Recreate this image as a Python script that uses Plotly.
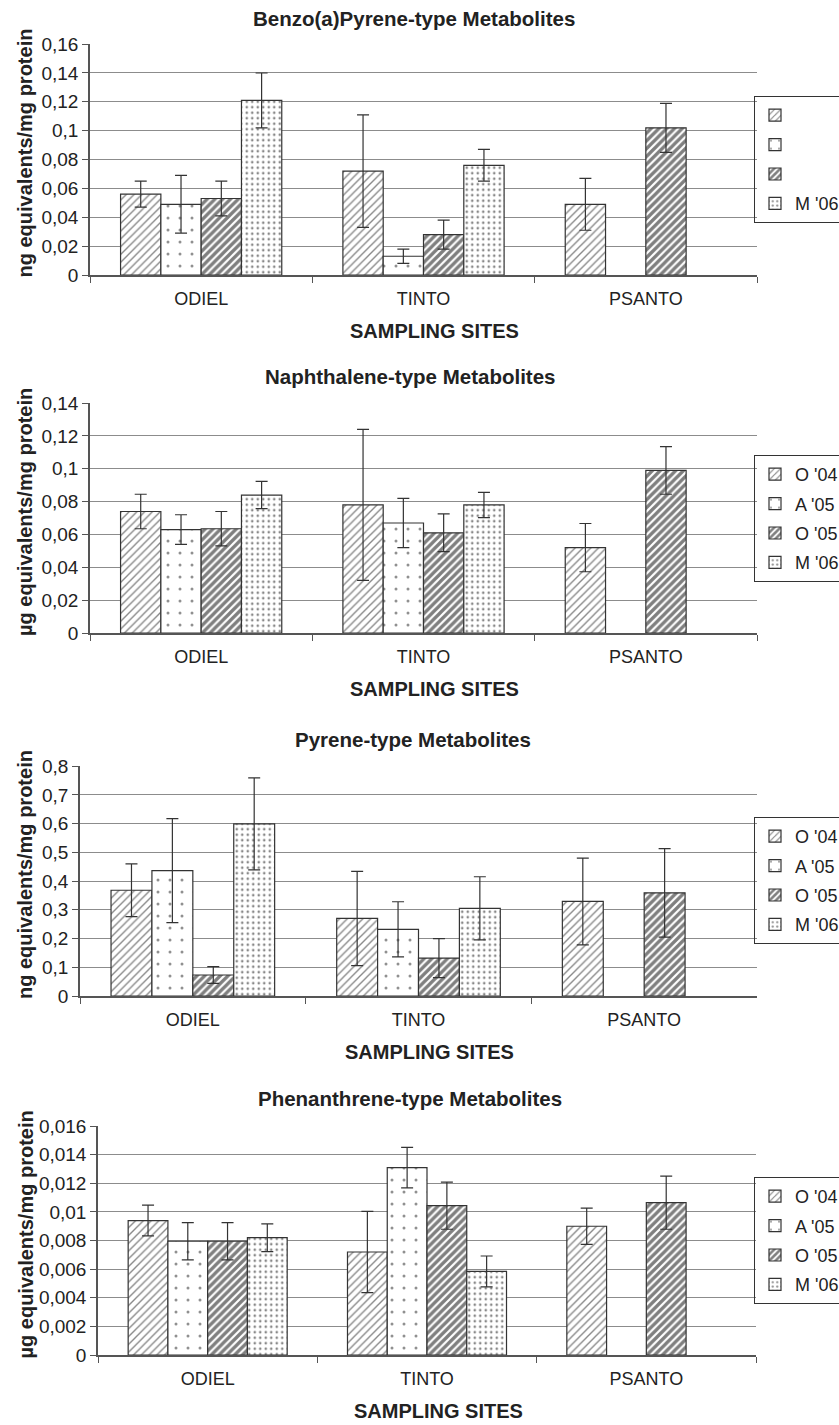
import plotly.graph_objects as go

sites = ["ODIEL", "TINTO", "PSANTO"]
series = ["O '04", "A '05", "O '05", "M '06"]

titles = ["Benzo(a)Pyrene-type Metabolites", "Naphthalene-type Metabolites",
          "Pyrene-type Metabolites", "Phenanthrene-type Metabolites"]
ytitles = ["ng equivalents/mg protein", "µg equivalents/mg protein",
           "ng equivalents/mg protein", "µg equivalents/mg protein"]
xtitle = "SAMPLING SITES"

# Benzo(a)Pyrene
bap_vals = [[0.056, 0.072, 0.049], [0.049, 0.013, None], [0.053, 0.028, 0.102], [0.121, 0.076, None]]
bap_err = [[0.009, 0.039, 0.018], [0.020, 0.005, None], [0.012, 0.010, 0.017], [0.019, 0.011, None]]
# Naphthalene
nap_vals = [[0.074, 0.078, 0.052], [0.063, 0.067, None], [0.0635, 0.061, 0.099], [0.084, 0.078, None]]
nap_err = [[0.0105, 0.046, 0.0147], [0.009, 0.015, None], [0.0105, 0.0115, 0.0145], [0.0083, 0.0077, None]]
# Pyrene
pyr_vals = [[0.368, 0.270, 0.329], [0.436, 0.232, None], [0.073, 0.132, 0.359], [0.599, 0.305, None]]
pyr_err = [[0.092, 0.164, 0.151], [0.181, 0.096, None], [0.029, 0.068, 0.154], [0.160, 0.110, None]]
# Phenanthrene
phe_vals = [[0.0094, 0.0072, 0.0090], [0.00795, 0.0131, None], [0.00795, 0.01044, 0.01065], [0.0082, 0.00584, None]]
phe_err = [[0.00107, 0.00284, 0.00127], [0.0013, 0.00142, None], [0.0013, 0.00165, 0.00186], [0.00097, 0.00108, None]]

yranges = [0.16, 0.14, 0.8, 0.016]
ydticks = [0.02, 0.02, 0.1, 0.002]

all_vals = [bap_vals, nap_vals, pyr_vals, phe_vals]
all_err = [bap_err, nap_err, pyr_err, phe_err]
# first panel legend shows only the last label
legend_names = [["", "", "", "M '06"], series, series, series]

W, H = 839, 1425
# pixel geometry of the panels (left, right, top, bottom)
panels = [(90, 757, 44, 275), (90, 757, 403, 633), (80, 757, 766, 996), (98, 756, 1126, 1355)]
legend_tops = [96, 455, 817, 1177]
legend_left = 754
title_pos = [(414, 18), (410, 376), (413, 739), (410, 1098)]

patterns = [
    dict(shape="/", size=5.5, solidity=0.25, fgcolor="#111", bgcolor="white"),
    dict(shape=".", size=12, solidity=0.05, fgcolor="#222", bgcolor="white"),
    dict(shape="/", size=5.5, solidity=0.6, fgcolor="#000", bgcolor="white"),
    dict(shape=".", size=5.5, solidity=0.18, fgcolor="#111", bgcolor="white"),
]

FONT = "Liberation Sans, Arial, sans-serif"
fig = go.Figure()
annotations = []
layout = {}
for p in range(4):
    sfx = "" if p == 0 else str(p + 1)
    l, r, t, b = panels[p]
    for s in range(4):
        fig.add_trace(go.Bar(
            x=sites, y=all_vals[p][s], name=legend_names[p][s],
            xaxis="x" + sfx, yaxis="y" + sfx,
            legend="legend" + sfx, legendgroup=f"p{p}s{s}",
            marker=dict(color="white", pattern=patterns[s], line=dict(color="#333", width=1.2)),
            error_y=dict(type="data", array=all_err[p][s], visible=True,
                         color="#333", thickness=1.2, width=6),
        ))
    layout["xaxis" + sfx] = dict(
        domain=[l / W, r / W], anchor="y" + sfx, type="category",
        categoryorder="array", categoryarray=sites,
        tickson="boundaries", ticks="outside", ticklen=6, tickcolor="#555",
        showline=True, linecolor="#555", linewidth=1.5, showgrid=False,
        tickfont=dict(family=FONT, size=18, color="#222"),
        ticklabelstandoff=7,
    )
    layout["yaxis" + sfx] = dict(
        domain=[1 - b / H, 1 - t / H], anchor="x" + sfx,
        range=[0, yranges[p] * 1.0005], dtick=ydticks[p], tick0=0,
        ticks="outside", ticklen=6, tickcolor="#555",
        showline=True, linecolor="#555", linewidth=1.5,
        showgrid=True, gridcolor="#8c8c8c", gridwidth=1, zeroline=False,
        tickfont=dict(family=FONT, size=19, color="#222"),
    )
    layout["legend" + sfx] = dict(
        x=legend_left / W, xanchor="left", y=1 - legend_tops[p] / H, yanchor="top",
        xref="paper", yref="paper",
        bordercolor="#333", borderwidth=1, bgcolor="rgba(255,255,255,0)",
        font=dict(family=FONT, size=18, color="#222"),
        tracegroupgap=3, itemwidth=30,
    )
    tx, ty = title_pos[p]
    annotations.append(dict(text="<b>" + titles[p] + "</b>", x=tx / W, y=1 - ty / H,
                            xref="paper", yref="paper", showarrow=False,
                            xanchor="center", yanchor="middle",
                            font=dict(family=FONT, size=20.5, color="#222")))
    annotations.append(dict(text="<b>" + ytitles[p] + "</b>", x=25 / W,
                            y=1 - ((t + b) / 2 - 6) / H,
                            xref="paper", yref="paper", showarrow=False, textangle=-90,
                            xanchor="center", yanchor="middle",
                            font=dict(family=FONT, size=20, color="#222")))
    annotations.append(dict(text="<b>" + xtitle + "</b>", x=((l + r) / 2 + 11) / W,
                            y=1 - (b + 56) / H,
                            xref="paper", yref="paper", showarrow=False,
                            xanchor="center", yanchor="middle",
                            font=dict(family=FONT, size=20, color="#222")))

fig.update_layout(
    width=W, height=H, margin=dict(l=0, r=0, t=0, b=0, autoexpand=False),
    paper_bgcolor="white", plot_bgcolor="white",
    barmode="group", bargap=0.275, bargroupgap=0,
    separators=",.", annotations=annotations,
    font=dict(family=FONT, color="#222"),
    **layout,
)
fig.write_html("out.html")
